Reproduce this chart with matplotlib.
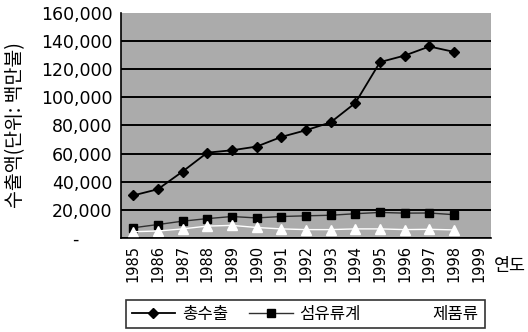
import matplotlib
matplotlib.use("Agg")
from matplotlib import pyplot as plt
from matplotlib.ticker import FuncFormatter

plt.rcParams['font.family'] = ['DejaVu Sans', 'Noto Sans CJK KR']

# export values, million USD
years = [str(y) for y in range(1985, 2000)]
total = [30283, 34715, 47281, 60696, 62377, 65016, 71870, 76632, 82236,
         96013, 125058, 129715, 136164, 132313]
textile = [7300, 9600, 12000, 13800, 15300, 14300, 15300, 15800, 16200,
           17300, 18200, 17700, 17800, 16600]
products = [4500, 5000, 6500, 8500, 9000, 7500, 6500, 6000, 6000,
            6500, 6500, 6000, 6200, 5800]

fig = plt.figure(figsize=(5.28, 3.32), dpi=100)
ax = fig.add_axes([0.229, 0.283, 0.701, 0.678])
ax.set_facecolor('#ababab')

x = list(range(len(years)))
ax.plot(x[:len(total)], total, color='black', lw=1.3, marker='D', ms=5.5,
        label='총수출')
ax.plot(x[:len(textile)], textile, color='#303030', lw=1.0, marker='s', ms=6,
        mfc='black', mec='black', label='섬유류계')
ax.plot(x[:len(products)], products, color='white', lw=1.0, marker='^', ms=7,
        mfc='white', mec='white', label='제품류')

ax.set_xlim(-0.5, len(years) - 0.5)
ax.set_ylim(0, 160000)
ax.set_yticks(range(0, 160001, 20000))
ax.yaxis.set_major_formatter(FuncFormatter(
    lambda v, p: '-      ' if v == 0 else f'{int(v):,}'))
ax.set_xticks(x)
ax.set_xticklabels(years, rotation=90, fontsize=10.5)
ax.tick_params(axis='y', labelsize=12.5, length=0, pad=6)
ax.tick_params(axis='x', length=0, pad=5)

ax.grid(axis='y', color='black', lw=1.4)
ax.get_ygridlines()[-1].set_visible(False)
ax.set_axisbelow(True)
for side in ['top', 'right']:
    ax.spines[side].set_visible(False)
ax.spines['left'].set_linewidth(1.2)
ax.spines['bottom'].set_linewidth(1.2)

ax.set_ylabel('수출액(단위: 백만불)', fontsize=14, labelpad=11,
              family=['Noto Sans CJK KR', 'DejaVu Sans'], weight='medium')
fig.text(0.935, 0.2, '연도', fontsize=12.5, va='center', ha='left',
         family=['Noto Sans CJK KR'], weight='medium')

leg = fig.legend(loc='center', bbox_to_anchor=(0.578, 0.054), ncol=3,
                 frameon=True, fancybox=False, edgecolor='black',
                 prop={'family': ['Noto Sans CJK KR'], 'size': 12,
                       'weight': 'medium'},
                 handlelength=2.6, handletextpad=0.4, columnspacing=1.3,
                 borderpad=0.35)
leg.get_frame().set_linewidth(1.2)

fig.savefig('out.png', dpi=100)
